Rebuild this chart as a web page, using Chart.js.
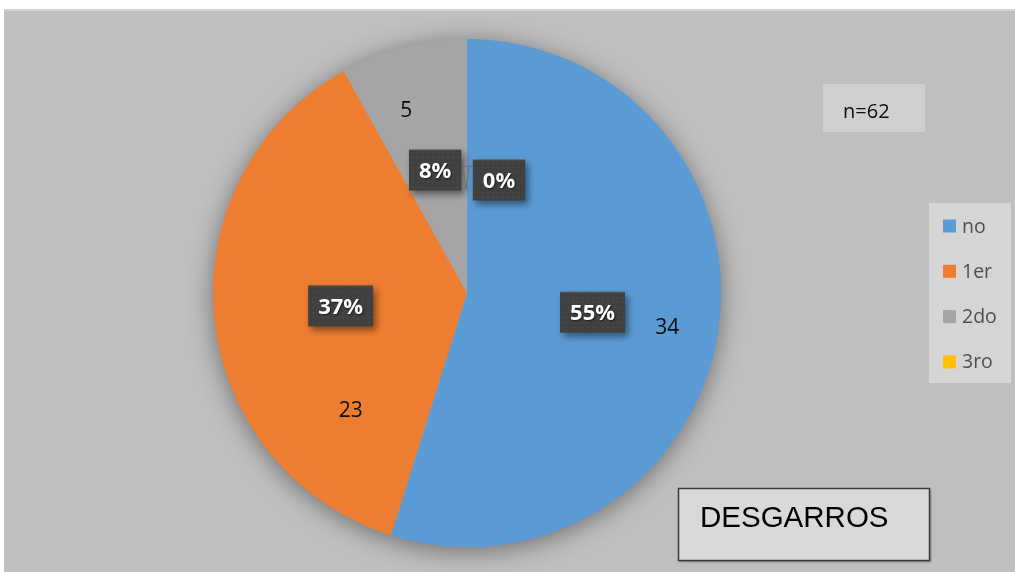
<!DOCTYPE html>
<html>
<head>
<meta charset="utf-8">
<script src="https://cdn.jsdelivr.net/npm/chart.js@4/dist/chart.umd.min.js"></script>
<style>
  html, body { margin: 0; padding: 0; background: #ffffff; }
  #wrap { position: relative; width: 1015px; height: 572px; }
  canvas { display: block; }
</style>
</head>
<body>
<div id="wrap"><canvas id="chart" width="1015" height="572"></canvas></div>
<script>
// Tear grades recorded in the sample
const categories = ['no', '1er', '2do', '3ro'];
const counts = [34, 23, 5, 0];
const sliceColors = ['#5b9bd5', '#ed7d31', '#a5a5a5', '#ffc000'];
const chartTitle = 'DESGARROS';

const total = counts.reduce((a, b) => a + b, 0);
const sampleLabel = 'n=' + total;

// Label placement per slice (radius as fraction of the pie radius, angle nudge in degrees, pixel nudge)
const pctPlacement = [
  { r: 0.5, da: 0, dx: 0, dy: 0 },
  { r: 0.5, da: 0, dx: 0, dy: 0 },
  { r: 0.5, da: 0, dx: 0, dy: 0 },
  { r: 0.5, da: 0, dx: 32, dy: 14, leader: true }
];
const valuePlacement = [
  { r: 0.80, da: 1 },
  { r: 0.65, da: -39.4 },
  { r: 0.76, da: -3.8 },
  null
];

const FONT = '"Open Sans", "Noto Sans", sans-serif';

// dotted texture for the dark label boxes
function makeBoxPattern(ctx) {
  const p = document.createElement('canvas');
  p.width = 5; p.height = 5;
  const pc = p.getContext('2d');
  pc.fillStyle = '#404040';
  pc.fillRect(0, 0, 5, 5);
  pc.fillStyle = '#4b4b4b';
  pc.fillRect(2, 2, 2, 1);
  return ctx.createPattern(p, 'repeat');
}

const backdrop = {
  id: 'backdrop',
  beforeDraw(chart) {
    const ctx = chart.ctx;
    ctx.save();
    ctx.fillStyle = '#ffffff';
    ctx.fillRect(0, 0, chart.width, chart.height);
    ctx.fillStyle = '#bfbfbf';
    ctx.fillRect(4, 9, chart.width - 4, chart.height - 9);
    ctx.fillStyle = '#d2d2d2';
    ctx.fillRect(4, 9, chart.width - 4, 2);
    ctx.restore();
  }
};

const pieShadow = {
  id: 'pieShadow',
  beforeDatasetsDraw(chart) {
    const arc = chart.getDatasetMeta(0).data[0];
    if (!arc) return;
    const { x, y, outerRadius } = arc.getProps(['x', 'y', 'outerRadius'], true);
    const ctx = chart.ctx;
    ctx.save();
    ctx.shadowColor = 'rgba(0,0,0,0.45)';
    ctx.shadowBlur = 26;
    ctx.shadowOffsetY = 4;
    ctx.beginPath();
    ctx.arc(x, y, outerRadius - 1, 0, Math.PI * 2);
    ctx.fillStyle = '#a5a5a5';
    ctx.fill();
    ctx.restore();
  }
};

const sliceLabels = {
  id: 'sliceLabels',
  afterDatasetsDraw(chart) {
    const ctx = chart.ctx;
    const meta = chart.getDatasetMeta(0);
    const pattern = makeBoxPattern(ctx);
    const values = chart.data.datasets[0].data;
    const sum = values.reduce((a, b) => a + b, 0);

    meta.data.forEach((arc, i) => {
      const { x, y, startAngle, endAngle, outerRadius } =
        arc.getProps(['x', 'y', 'startAngle', 'endAngle', 'outerRadius'], true);
      const mid = (startAngle + endAngle) / 2;

      // value labels
      const vp = valuePlacement[i];
      if (vp) {
        const a = mid + vp.da * Math.PI / 180;
        const vx = x + Math.cos(a) * outerRadius * vp.r;
        const vy = y + Math.sin(a) * outerRadius * vp.r;
        ctx.save();
        ctx.font = '21px ' + FONT;
        ctx.fillStyle = '#0d0d0d';
        ctx.textAlign = 'center';
        ctx.textBaseline = 'middle';
        ctx.fillText(String(values[i]), vx, vy + 1);
        ctx.restore();
      }

      // percentage boxes
      const pp = pctPlacement[i];
      const ax = x + Math.cos(mid) * outerRadius * pp.r;
      const ay = y + Math.sin(mid) * outerRadius * pp.r;
      const cx = ax + pp.dx;
      const cy = ay + pp.dy;
      const text = Math.round(values[i] / sum * 100) + '%';
      ctx.save();
      ctx.font = 'bold 22px ' + FONT;
      const w = ctx.measureText(text).width + 20;
      const h = 41;
      const bx = cx - w / 2, by = cy - h / 2;

      if (pp.leader) {
        ctx.strokeStyle = '#6f6f6f';
        ctx.lineWidth = 1;
        ctx.beginPath();
        ctx.moveTo(bx, by + 7);
        ctx.lineTo(ax - 4, ay);
        ctx.lineTo(ax - 1, ay + 24);
        ctx.lineTo(ax + 2, ay);
        ctx.stroke();
      }

      ctx.shadowColor = 'rgba(0,0,0,0.45)';
      ctx.shadowBlur = 7;
      ctx.shadowOffsetX = 3;
      ctx.shadowOffsetY = 4;
      ctx.fillStyle = pattern;
      ctx.fillRect(bx, by, w, h);
      ctx.shadowColor = 'transparent';
      ctx.fillStyle = 'rgba(255,255,255,0.10)';
      ctx.fillRect(bx, by, w, 1);

      ctx.shadowColor = 'rgba(0,0,0,0.6)';
      ctx.shadowBlur = 2;
      ctx.shadowOffsetX = 1;
      ctx.shadowOffsetY = 1;
      ctx.fillStyle = '#ffffff';
      ctx.textAlign = 'center';
      ctx.textBaseline = 'middle';
      ctx.fillText(text, cx, cy + 2);
      ctx.restore();
    });
  }
};

const sideBoxes = {
  id: 'sideBoxes',
  afterDraw(chart) {
    const ctx = chart.ctx;
    const ds = chart.data.datasets[0];
    ctx.save();

    // sample size box
    ctx.fillStyle = '#d0cece';
    ctx.fillRect(823, 84, 102, 48);
    ctx.font = '20px ' + FONT;
    ctx.fillStyle = '#0d0d0d';
    ctx.textAlign = 'left';
    ctx.textBaseline = 'alphabetic';
    ctx.fillText(sampleLabel, 843, 118);

    // legend
    ctx.fillStyle = '#d5d5d5';
    ctx.fillRect(929, 203, 82, 180);
    ctx.font = '19.5px ' + FONT;
    ctx.textBaseline = 'middle';
    chart.data.labels.forEach((lab, i) => {
      const yy = 226 + i * 45.3;
      ctx.fillStyle = ds.backgroundColor[i];
      ctx.fillRect(943, yy - 6.5, 13, 13);
      ctx.fillStyle = '#505050';
      ctx.fillText(lab, 962, yy + 1);
    });

    // title box
    ctx.save();
    ctx.shadowColor = 'rgba(0,0,0,0.35)';
    ctx.shadowBlur = 2;
    ctx.shadowOffsetX = 1;
    ctx.shadowOffsetY = 1;
    ctx.fillStyle = '#d9d9d9';
    ctx.fillRect(678.5, 488.5, 251, 72);
    ctx.restore();
    ctx.strokeStyle = '#3a3a3a';
    ctx.lineWidth = 1.5;
    ctx.strokeRect(678.5, 488.5, 251, 72);
    ctx.font = '29.5px "Liberation Sans", Arial, sans-serif';
    ctx.fillStyle = '#000000';
    ctx.textBaseline = 'alphabetic';
    ctx.fillText(chartTitle, 700, 527);

    ctx.restore();
  }
};

new Chart(document.getElementById('chart'), {
  type: 'pie',
  data: {
    labels: categories,
    datasets: [{
      data: counts,
      backgroundColor: sliceColors,
      borderWidth: 0
    }]
  },
  options: {
    responsive: false,
    devicePixelRatio: 1,
    animation: false,
    layout: { padding: { left: 213, right: 294, top: 39, bottom: 25 } },
    plugins: {
      legend: { display: false },
      tooltip: { enabled: false }
    }
  },
  plugins: [backdrop, pieShadow, sliceLabels, sideBoxes]
});
</script>
</body>
</html>
